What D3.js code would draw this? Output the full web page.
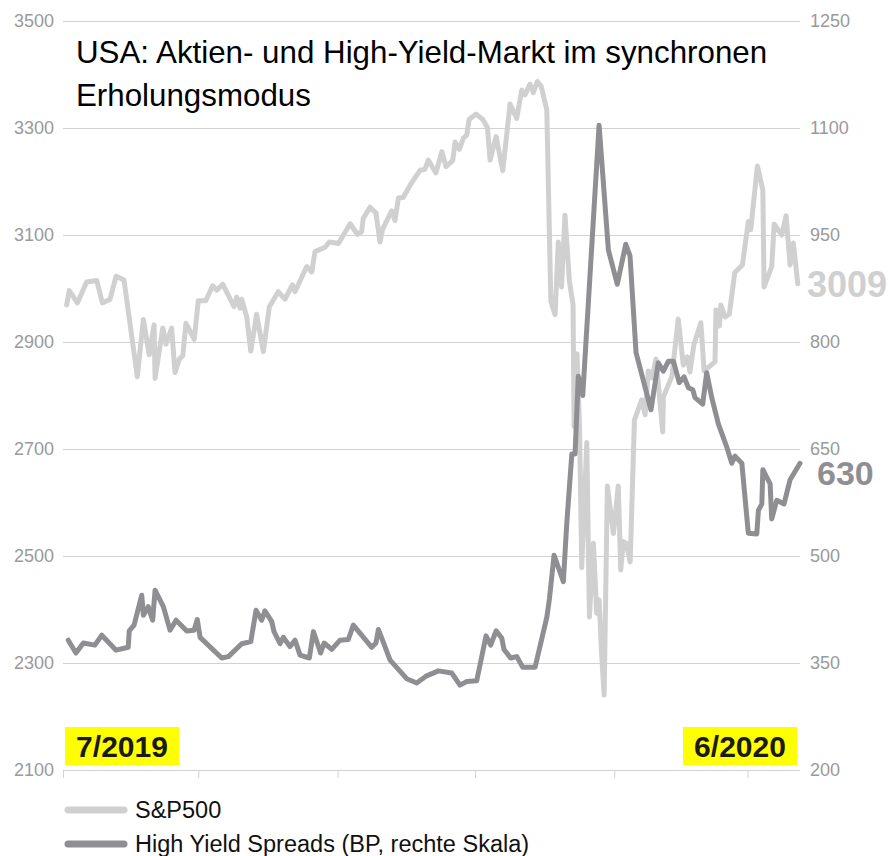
<!DOCTYPE html>
<html>
<head>
<meta charset="utf-8">
<script src="https://cdn.jsdelivr.net/npm/d3@7"></script>
<style>
  body { margin: 0; background: #fff; }
  svg { display: block; font-family: "Liberation Sans", Arial, Helvetica, sans-serif; }
</style>
</head>
<body>
<script>
// days counted from 1 July 2019
var spDays = [1.8, 3.1, 7.1, 11.7, 16.7, 19.5, 23.3, 26.3, 30.2, 36.8, 39.8, 42.7, 45.1, 45.6, 49.4, 51.0, 53.8, 55.5, 57.6, 59.3,
  60.9, 65.0, 67.0, 70.7, 74.1, 76.1, 79.1, 84.7, 86.0, 87.7, 88.5, 91.0, 93.0, 95.9, 99.2, 102.2, 106.6, 110.0, 113.6, 114.9,
  120.7, 123.2, 124.8, 129.8, 131.9, 136.4, 142.2, 145.8, 147.9, 148.7, 152.1, 155.0, 157.0, 158.3, 162.8, 164.4, 166.1, 168.5, 171.9, 176.8,
  179.3, 180.9, 184.7, 187.6, 189.7, 193.0, 194.2, 196.3, 198.3, 200.0, 201.1, 204.6, 207.9, 210.2, 211.5, 214.5, 217.8, 221.4, 224.7, 227.2,
  228.8, 231.3, 232.9, 234.9, 236.8, 239.6, 241.6, 243.7, 245.3, 246.9, 248.6, 250.8, 252.6, 253.1, 254.6, 255.8, 256.9, 259.4, 260.7, 262.7,
  264.3, 265.5, 266.7, 268.0, 269.6, 272.6, 275.0, 276.2, 277.5, 278.9, 280.9, 283.0, 286.6, 288.3, 289.9, 291.7, 293.7, 297.0, 297.3, 301.5,
  304.7, 307.2, 309.2, 310.5, 312.5, 315.9, 317.5, 322.9, 323.4, 325.1, 325.8, 327.9, 330.0, 332.7, 336.5, 339.4, 340.6, 343.9, 346.6, 347.2,
  351.0, 352.2, 356.0, 358.1, 360.1, 361.7, 363.9];
var spValues = [2969, 2996, 2973, 3012, 3015, 2973, 2980, 3023, 3016, 2835, 2942, 2876, 2932, 2832, 2926, 2896, 2926, 2843, 2868, 2874,
  2935, 2905, 2977, 2977, 3005, 2997, 3008, 2966, 2984, 2963, 2980, 2947, 2883, 2952, 2882, 2966, 2994, 2980, 3007, 2994,
  3041, 3031, 3069, 3077, 3087, 3084, 3121, 3101, 3106, 3131, 3152, 3141, 3087, 3111, 3145, 3127, 3169, 3170, 3193, 3221,
  3223, 3240, 3216, 3256, 3228, 3239, 3274, 3260, 3281, 3287, 3316, 3326, 3316, 3301, 3240, 3284, 3220, 3345, 3318, 3371,
  3362, 3382, 3366, 3387, 3378, 3334, 2976, 2951, 3087, 3003, 3137, 3014, 2970, 2742, 2878, 2743, 2478, 2712, 2386, 2524,
  2393, 2418, 2321, 2240, 2631, 2542, 2631, 2474, 2527, 2524, 2489, 2754, 2792, 2764, 2846, 2833, 2868, 2732, 2797, 2835,
  2943, 2857, 2872, 2844, 2896, 2936, 2846, 2863, 2960, 2930, 2969, 2947, 2952, 3030, 3044, 3125, 3110, 3229, 3184, 3003,
  3041, 3120, 3100, 3136, 3044, 3085, 3009];

var hyDays = [2.6, 6.4, 10.1, 15.8, 19.2, 26.3, 32.3, 32.8, 35.2, 39.0, 39.8, 42.2, 44.4, 45.6, 49.7, 53.0, 56.0, 61.3, 64.9, 66.5,
  67.9, 78.6, 81.9, 88.5, 93.0, 95.6, 98.4, 100.0, 103.4, 104.5, 107.5, 109.1, 112.4, 114.9, 117.4, 122.0, 124.0, 127.6, 129.3, 133.1,
  137.2, 141.3, 143.8, 152.9, 155.0, 156.2, 162.0, 170.2, 175.2, 180.1, 185.9, 192.5, 196.6, 200.0, 204.9, 209.5, 211.8, 214.5, 217.3, 218.4,
  221.7, 224.7, 227.7, 233.8, 239.6, 240.9, 243.2, 247.8, 249.5, 252.0, 253.6, 255.2, 257.4, 265.5, 270.1, 274.5, 278.7, 280.8, 283.8, 291.2,
  294.8, 297.3, 299.8, 302.3, 305.2, 307.6, 309.7, 311.9, 313.0, 316.8, 318.8, 321.3, 324.6, 328.7, 331.2, 332.8, 336.2, 339.4, 343.6, 344.4,
  346.1, 346.6, 350.2, 351.0, 353.5, 357.1, 360.1, 365.0];
var hyValues = [382, 364, 378, 375, 389, 368, 372, 395, 403, 445, 417, 429, 410, 452, 429, 396, 410, 395, 396, 411,
  386, 357, 359, 377, 380, 424, 410, 423, 408, 394, 377, 386, 373, 382, 361, 357, 394, 364, 378, 369,
  382, 383, 403, 372, 378, 397, 354, 328, 322, 332, 339, 336, 319, 324, 325, 388, 375, 395, 385, 369,
  357, 359, 344, 344, 414, 440, 501, 464, 546, 643, 643, 752, 725, 1104, 929, 881, 937, 921, 785, 705,
  771, 759, 773, 773, 743, 751, 736, 733, 722, 713, 757, 722, 685, 653, 630, 640, 630, 532, 531, 564,
  573, 621, 601, 552, 578, 573, 607, 630];

var leftTicks = [2100, 2300, 2500, 2700, 2900, 3100, 3300, 3500];
var rightTicks = [200, 350, 500, 650, 800, 950, 1100, 1250];
var xTicks = [0, 67, 136, 204, 273, 339];

var titleLines = ["USA: Aktien- und High-Yield-Markt im synchronen", "Erholungsmodus"];
var seriesNames = ["S&P500", "High Yield Spreads (BP, rechte Skala)"];
var startLabel = "7/2019", endLabel = "6/2020";

var W = 890, H = 856;
var m = {left: 63, right: 90, top: 21, bottom: 86};
var lightGrey = "#d0d0d0", darkGrey = "#8f8e93", gridGrey = "#d2d2d2";

var svg = d3.select("body").append("svg").attr("width", W).attr("height", H);

var x = d3.scaleLinear().domain([0, 365]).range([m.left, W - m.right]);
var yL = d3.scaleLinear().domain([2100, 3500]).range([H - m.bottom, m.top]);
var yR = d3.scaleLinear().domain([200, 1250]).range([H - m.bottom, m.top]);

var yAxisL = svg.append("g")
    .attr("transform", "translate(" + m.left + ",0)")
    .call(d3.axisLeft(yL).tickValues(leftTicks).tickFormat(d3.format("d"))
      .tickSize(-(W - m.right - m.left)).tickPadding(9));
yAxisL.select(".domain").remove();
yAxisL.selectAll("line").attr("stroke", gridGrey);
yAxisL.selectAll("text").attr("fill", "#9a9a9a").style("font-size", "18px");

var yAxisR = svg.append("g")
    .attr("transform", "translate(" + (W - m.right) + ",0)")
    .call(d3.axisRight(yR).tickValues(rightTicks).tickFormat(d3.format("d")).tickSize(0).tickPadding(10));
yAxisR.select(".domain").remove();
yAxisR.selectAll("text").attr("fill", "#9a9a9a").style("font-size", "18px");

var xAxis = svg.append("g")
    .attr("transform", "translate(0," + (H - m.bottom) + ")")
    .call(d3.axisBottom(x).tickValues(xTicks).tickSize(8).tickFormat(""));
xAxis.select(".domain").remove();
xAxis.selectAll("line").attr("stroke", gridGrey);

// title
svg.append("text")
    .attr("x", 76).attr("y", 63)
    .style("font-size", "31.3px").attr("fill", "#000")
    .selectAll("tspan").data(titleLines).enter().append("tspan")
    .attr("x", 76).attr("dy", function(d, i) { return i ? 43 : 0; })
    .text(function(d) { return d; });

var spData = spDays.map(function(d, i) { return [d, spValues[i]]; });
var hyData = hyDays.map(function(d, i) { return [d, hyValues[i]]; });

var lineL = d3.line().x(function(d) { return x(d[0]); }).y(function(d) { return yL(d[1]); });
var lineR = d3.line().x(function(d) { return x(d[0]); }).y(function(d) { return yR(d[1]); });

svg.append("path").datum(spData).attr("d", lineL)
    .attr("fill", "none").attr("stroke", lightGrey).attr("stroke-width", 5)
    .attr("stroke-linejoin", "round").attr("stroke-linecap", "round");
svg.append("path").datum(hyData).attr("d", lineR)
    .attr("fill", "none").attr("stroke", darkGrey).attr("stroke-width", 5)
    .attr("stroke-linejoin", "round").attr("stroke-linecap", "round");

// end values
var lastSp = spData[spData.length - 1], lastHy = hyData[hyData.length - 1];
svg.append("text").attr("x", 807).attr("y", yL(lastSp[1]) + 13)
    .style("font-size", "36px").style("font-weight", "bold").attr("fill", lightGrey)
    .text(lastSp[1]);
svg.append("text").attr("x", 817).attr("y", yR(lastHy[1]) + 22)
    .style("font-size", "34px").style("font-weight", "bold").attr("fill", darkGrey)
    .text(lastHy[1]);

// yellow date boxes
function dateBox(label, x0) {
  var g = svg.append("g").attr("transform", "translate(" + x0 + ",727)");
  g.append("rect").attr("width", 114).attr("height", 38).attr("fill", "#ffff00");
  g.append("text").attr("x", 57).attr("y", 30).attr("text-anchor", "middle")
      .style("font-size", "30px").style("font-weight", "bold").attr("fill", "#1a1a1a")
      .text(label);
}
dateBox(startLabel, 65);
dateBox(endLabel, 683);

// legend
var legend = svg.append("g").selectAll("g").data(seriesNames).enter().append("g")
    .attr("transform", function(d, i) { return "translate(0," + (810 + i * 34) + ")"; });
legend.append("line").attr("x1", 68).attr("x2", 124)
    .attr("stroke", function(d, i) { return i ? darkGrey : lightGrey; })
    .attr("stroke-width", 7).attr("stroke-linecap", "round");
legend.append("text").attr("x", 135).attr("y", 8)
    .style("font-size", "23.5px").attr("fill", "#111")
    .text(function(d) { return d; });
</script>
</body>
</html>
